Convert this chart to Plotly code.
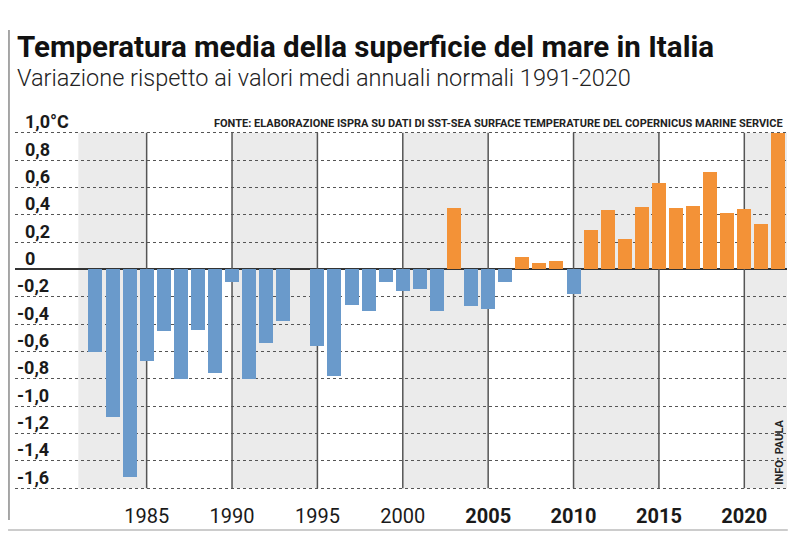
import plotly.graph_objects as go

# ---- data ----
years = list(range(1982, 2023))
anomaly = [
    -0.60, -1.08, -1.52, -0.67, -0.45, -0.80, -0.44, -0.76, -0.09, -0.80,
    -0.54, -0.38, None, -0.56, -0.78, -0.26, -0.30, -0.09, -0.16, -0.14,
    -0.30, 0.45, -0.27, -0.29, -0.09, 0.09, 0.05, 0.065, -0.18, 0.29,
    0.435, 0.22, 0.455, 0.635, 0.45, 0.467, 0.71, 0.415, 0.44, 0.33,
    1.00,
]
x_tick_years = [1985, 1990, 1995, 2000, 2005, 2010, 2015, 2020]
x_tick_bold = [False, False, False, False, True, True, True, True]
y_tick_vals = [1.0, 0.8, 0.6, 0.4, 0.2, 0.0, -0.2, -0.4, -0.6, -0.8, -1.0, -1.2, -1.4, -1.6]
y_tick_text = ["1,0°C", "0,8", "0,6", "0,4", "0,2", "0", "-0,2", "-0,4", "-0,6",
               "-0,8", "-1,0", "-1,2", "-1,4", "-1,6"]
band_periods = [(1981, 1985), (1990, 1995), (2000, 2005), (2010, 2015), (2020, 2022.5)]

title = "Temperatura media della superficie del mare in Italia"
subtitle = "Variazione rispetto ai valori medi annuali normali 1991-2020"
source = "FONTE: ELABORAZIONE ISPRA SU DATI DI SST-SEA SURFACE TEMPERATURE DEL COPERNICUS MARINE SERVICE"
credit = "INFO: PAULA"

BLUE = "#6a9acb"
ORANGE = "#f39237"
FONT = "Roboto"

colors = [ORANGE if (v is not None and v > 0) else BLUE for v in anomaly]

fig = go.Figure()
fig.add_trace(go.Bar(
    x=years, y=anomaly, marker=dict(color=colors, line=dict(width=0)),
    width=0.82, hoverinfo="x+y",
))

shapes = []
for a, b in band_periods:
    shapes.append(dict(type="rect", xref="x", yref="y", x0=a, x1=b, y0=-1.6, y1=1.0,
                       fillcolor="#ebebeb", line=dict(width=0), layer="below"))
for yr in x_tick_years:
    shapes.append(dict(type="line", xref="x", yref="y", x0=yr, x1=yr, y0=-1.6, y1=1.0,
                       line=dict(color="#555555", width=1.5), layer="between"))
# left border and bottom rule
shapes.append(dict(type="line", xref="paper", yref="paper", x0=-0.0078, x1=-0.0078,
                   y0=1.277, y1=-0.08, line=dict(color="#8a8a8a", width=1.5)))
shapes.append(dict(type="line", xref="paper", yref="paper", x0=-0.009, x1=1.001,
                   y0=-0.108, y1=-0.108, line=dict(color="#cccccc", width=2)))

annotations = []
for v, t in zip(y_tick_vals, y_tick_text):
    annotations.append(dict(
        x=0, xref="paper", y=v, yref="y", text="<b>%s</b>" % t, showarrow=False,
        xanchor="left", yanchor="middle", xshift=(0 if v < 0 else 8), yshift=11,
        font=dict(family=FONT, size=18, color="#1a1a1a"),
    ))
annotations.append(dict(x=0, xref="paper", y=1.230, yref="paper", text="<b>%s</b>" % title,
                        showarrow=False, xanchor="left", yanchor="middle", xshift=0,
                        font=dict(family=FONT, size=29.5, color="#111111", weight=900)))
annotations.append(dict(x=0, xref="paper", y=1.144, yref="paper", text=subtitle,
                        showarrow=False, xanchor="left", yanchor="middle", xshift=0,
                        font=dict(family=FONT, size=23.5, color="#222222", weight=300)))
annotations.append(dict(x=0.997, xref="paper", y=1.017, yref="paper", text="<b>%s</b>" % source,
                        showarrow=False, xanchor="right", yanchor="middle",
                        font=dict(family=FONT, size=11, color="#222222")))
annotations.append(dict(x=0.991, xref="paper", y=-1.34, yref="y", text="<b>%s</b>" % credit,
                        showarrow=False, textangle=-90, xanchor="center", yanchor="middle",
                        font=dict(family=FONT, size=11, color="#222222")))

ticktext = ["<b>%d</b>" % y if b else str(y) for y, b in zip(x_tick_years, x_tick_bold)]

fig.update_layout(
    width=792, height=526,
    margin=dict(l=7, r=13, t=122, b=43),
    paper_bgcolor="white", plot_bgcolor="white",
    showlegend=False,
    bargap=0,
    xaxis=dict(range=[1977.29, 2022.5], tickvals=x_tick_years, ticktext=ticktext,
               showgrid=False, zeroline=False, showline=False,
               ticks="outside", ticklen=7, tickcolor="rgba(0,0,0,0)",
               tickfont=dict(family=FONT, size=20, color="#1a1a1a")),
    yaxis=dict(range=[-1.62, 1.02], tickvals=y_tick_vals, showticklabels=False,
               showgrid=True, gridcolor="#555555", griddash="dot", gridwidth=1.3,
               zeroline=True, zerolinecolor="#333333", zerolinewidth=2,
               showline=False, ticks=""),
    shapes=shapes, annotations=annotations,
)

fig.write_html("out.html")
